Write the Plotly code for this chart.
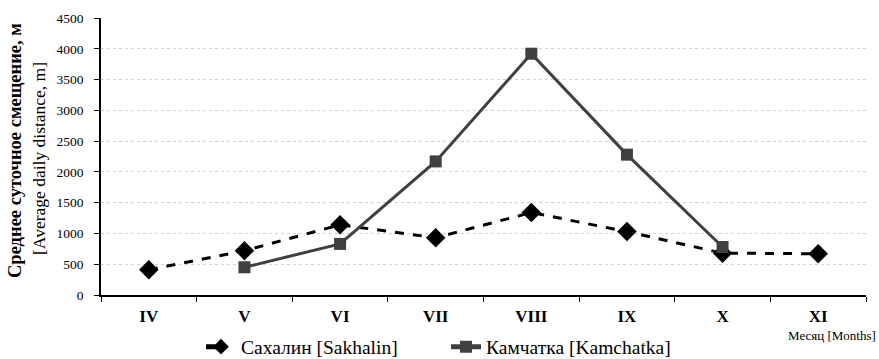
import plotly.graph_objects as go

months = ["IV", "V", "VI", "VII", "VIII", "IX", "X", "XI"]
sakhalin = [410, 720, 1140, 930, 1340, 1030, 680, 670]
kamchatka = [None, 450, 830, 2170, 3920, 2280, 780, None]
y_ticks = [0, 500, 1000, 1500, 2000, 2500, 3000, 3500, 4000, 4500]

font_family = "Liberation Serif"

W, H = 879, 359
L, R, T, B = 101, 13, 18, 64
PW, PH = W - L - R, H - T - B


def px(xp):
    return (xp - L) / PW


def py(yp):
    return (H - B - yp) / PH


fig = go.Figure()
fig.add_trace(go.Scatter(
    x=months, y=sakhalin, name="Сахалин [Sakhalin]", mode="lines+markers",
    line=dict(color="#000000", width=3, dash="dash"),
    marker=dict(symbol="diamond", size=15, color="#000000"),
    legend="legend",
))
fig.add_trace(go.Scatter(
    x=months, y=kamchatka, name="Камчатка [Kamchatka]", mode="lines+markers",
    line=dict(color="#404040", width=3),
    marker=dict(symbol="square", size=12, color="#404040"),
    connectgaps=False, legend="legend2",
))

leg_common = dict(orientation="h", yanchor="middle", xanchor="left",
                  font=dict(size=19.5, family=font_family, color="#000000"),
                  bgcolor="rgba(0,0,0,0)", borderwidth=0, itemsizing="constant")

fig.update_layout(
    width=W, height=H,
    margin=dict(l=L, r=R, t=T, b=B, autoexpand=False),
    paper_bgcolor="white", plot_bgcolor="white",
    font=dict(family=font_family, color="#000000"),
    showlegend=True,
    legend=dict(x=px(201), y=py(347), **leg_common),
    legend2=dict(x=px(446), y=py(347), **leg_common),
    xaxis=dict(
        type="category", categoryorder="array", categoryarray=months,
        showline=True, linecolor="#000000", linewidth=1.5,
        ticks="outside", ticklen=5, tickcolor="#000000", tickson="boundaries",
        showgrid=False, tickfont=dict(size=17, family=font_family, weight="bold"),
        ticklabelstandoff=5,
        range=[-0.5, 7.5],
    ),
    yaxis=dict(
        range=[0, 4500], tickvals=y_ticks, ticktext=[str(v) for v in y_ticks],
        showline=True, linecolor="#000000", linewidth=1.5,
        ticks="outside", ticklen=5, tickcolor="#000000",
        showgrid=True, gridcolor="#d0d0d0", griddash="dot", gridwidth=1,
        tickfont=dict(size=13.5, family=font_family), zeroline=False,
        ticklabelstandoff=8,
    ),
    annotations=[
        dict(text="<b>Среднее суточное смещение, м</b>", xref="paper", yref="paper",
             x=px(15), y=py(151), textangle=-90, showarrow=False,
             font=dict(size=18.5, family=font_family), xanchor="center", yanchor="middle"),
        dict(text="[Average daily distance, m]", xref="paper", yref="paper",
             x=px(39), y=py(159), textangle=-90, showarrow=False,
             font=dict(size=17.5, family=font_family), xanchor="center", yanchor="middle"),
        dict(text="Месяц [Months]", xref="paper", yref="paper",
             x=px(878), y=py(335), showarrow=False, xanchor="right", yanchor="middle",
             font=dict(size=13, family=font_family)),
    ],
)

fig.write_html(
    "out.html",
    config={"displayModeBar": False},
    post_script="document.body.style.margin='0';document.body.style.overflow='hidden';",
)
